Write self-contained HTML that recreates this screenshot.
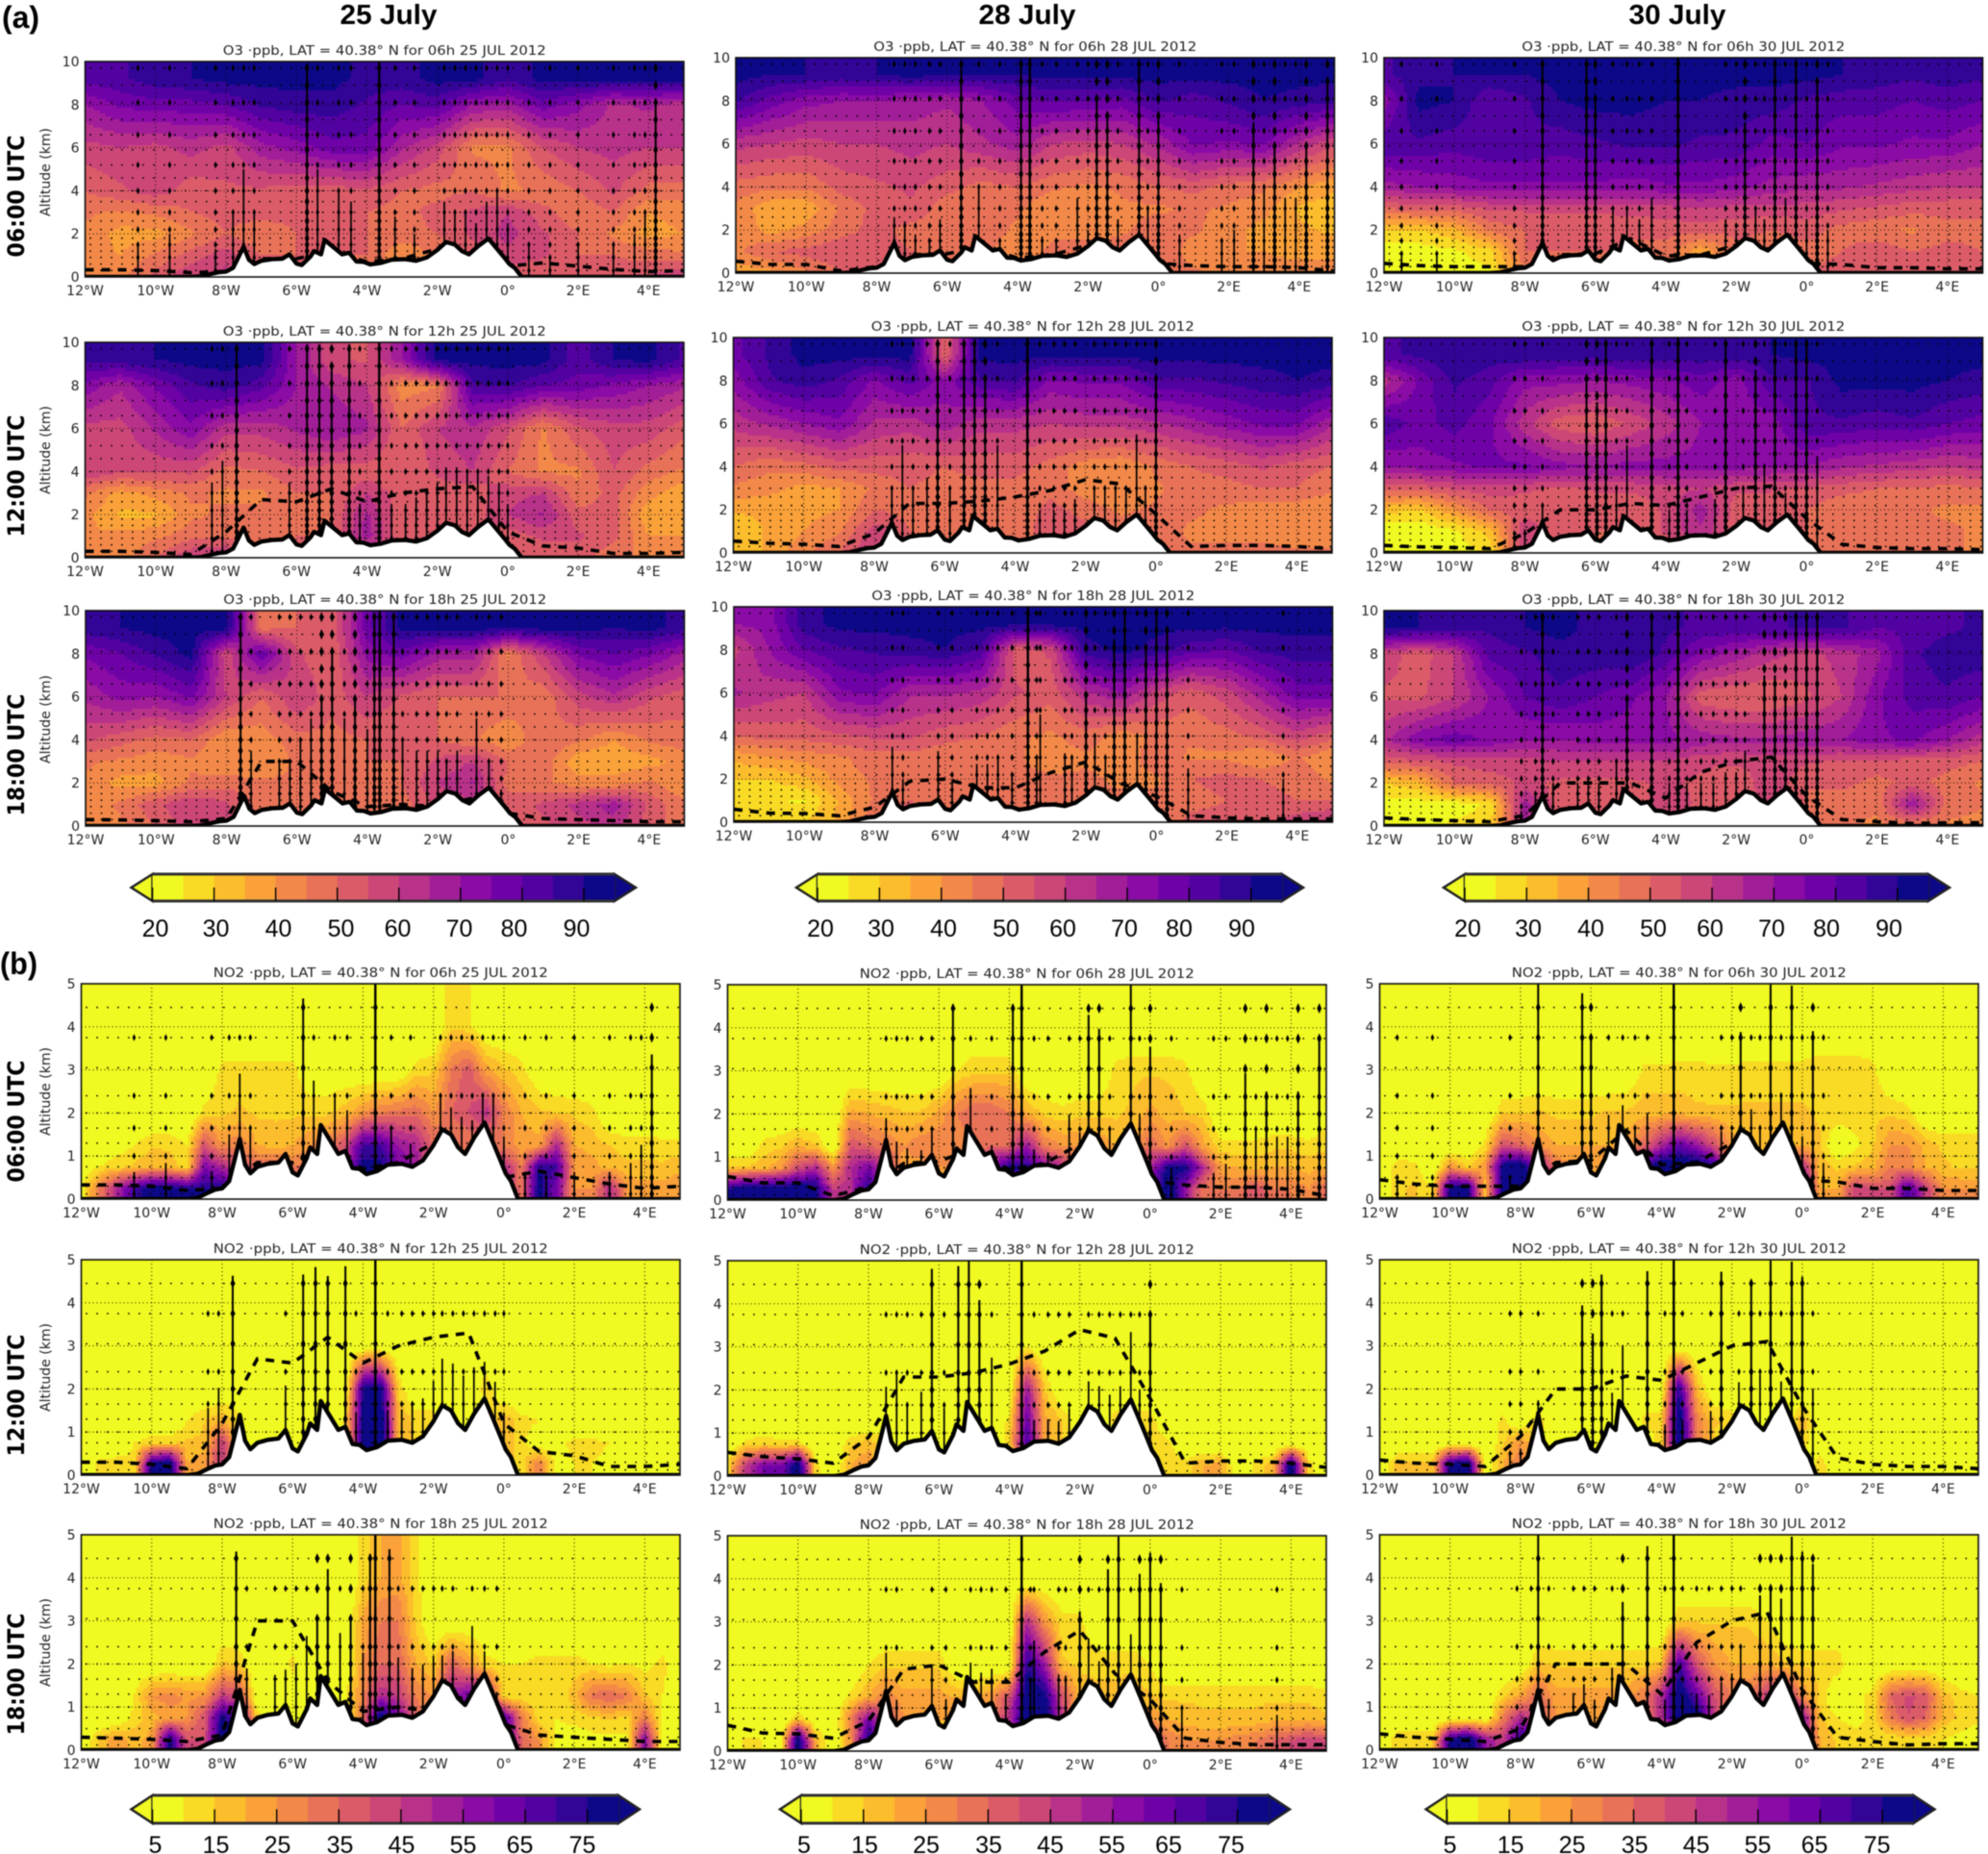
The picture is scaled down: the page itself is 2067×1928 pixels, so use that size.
<!DOCTYPE html>
<html lang="en">
<head>
<meta charset="utf-8">
<title>O3 and NO2 cross sections, July 2012</title>
<style>
html,body{margin:0;padding:0;background:#fff;width:2067px;height:1928px;overflow:hidden}
svg{display:block;filter:blur(.4px)}
.dj{font-family:"DejaVu Sans","Liberation Sans",sans-serif;fill:#222}
.lb{font-family:"Liberation Sans",sans-serif;fill:#000}
</style>
</head>
<body>
<svg id="fig" xmlns="http://www.w3.org/2000/svg" width="2067" height="1928" viewBox="0 0 2067 1928"></svg>
<script>
// ---------- shared axes ----------
const lonTicks=[-12,-10,-8,-6,-4,-2,0,2,4];
const o3AltTicks=[0,2,4,6,8,10];
const no2AltTicks=[0,1,2,3,4,5];
const o3Cols=[-12,-11,-10,-9,-8,-7,-6,-5,-4,-3,-2,-1,0,1,2,3,4,5];
const o3Rows=[0,1,2,3,4,6,8,9.2];
const no2Cols=[-12,-11.5,-11,-10.5,-10,-9.5,-9,-8.5,-8,-7.5,-7,-6.5,-6,-5.5,-5,-4.5,-4,-3.5,-3,-2.5,-2,-1.5,-1,-0.5,0,0.5,1,1.5,2,2.5,3,3.5,4,4.5,5];
const no2Rows=[0.25,0.75,1.25,2,3,4];
const blhLons=[-12,-11,-10,-9,-8,-7,-6,-5,-4,-3,-2,-1,0,1,2,3,4,5];
const terrainLon=[-12,-9,-8.7,-8.4,-8.2,-8,-7.8,-7.65,-7.5,-7.35,-7.2,-7,-6.7,-6.4,-6.2,-6,-5.85,-5.6,-5.5,-5.3,-5.2,-5,-4.7,-4.5,-4.3,-4.1,-3.9,-3.6,-3.3,-2.9,-2.6,-2.3,-2,-1.75,-1.5,-1.3,-1.1,-0.85,-0.55,-0.3,-0.1,0.05,0.2,0.4,5];
const terrainKm=[0,0,.03,.15,.22,.25,.42,.9,1.4,.8,.6,.75,.82,.85,1.05,.62,.55,.95,1.2,1.05,1.72,1.45,1.05,1.12,.72,.7,.58,.65,.8,.82,.75,.9,1.25,1.62,1.5,1.2,1.05,1.42,1.78,1.3,.9,.6,.42,0,0];
const o3DotAlts=[.3,.6,.9,1.2,1.5,1.8,2.2,2.6,3,3.5,4,4.6,5.2,5.9,6.6,7.3,8.1,8.9,9.7];
const no2DotAlts=[.12,.3,.5,.75,1,1.3,1.65,2,2.4,3.05,3.75,4.45];
const o3BarLabels=[20,30,40,50,60,70,80,90];
const no2BarLabels=[5,15,25,35,45,55,65,75];

// ---------- O3 (ppb): rows bottom to top, columns 12W to 5E ----------
const o3_25_06=[[42,44,52,60,62,55,50,50,48,42,46,50,52,50,50,52,56,60],[42,40,46,52,58,50,50,50,50,40,46,52,58,56,50,50,48,46],[44,38,38,44,50,46,50,50,50,48,50,56,62,56,50,44,38,40],[46,44,46,50,52,52,52,52,50,48,52,56,60,52,46,50,40,42],[50,54,58,52,54,54,52,52,54,50,48,50,44,46,50,56,48,48],[58,60,58,62,58,68,72,78,78,66,58,44,44,55,60,62,60,60],[70,76,78,78,80,86,88,88,84,80,82,70,68,78,72,64,66,62],[82,84,88,90,92,92,92,92,88,88,92,92,86,92,92,92,92,92]];
const o3_25_12=[[42,42,50,60,64,52,50,50,50,62,50,50,50,52,52,46,44,46],[40,42,44,48,48,48,50,50,68,50,50,52,52,56,56,52,40,40],[42,34,34,44,46,46,48,50,66,50,50,52,60,66,52,52,36,38],[46,38,42,46,44,44,50,50,60,52,52,52,58,60,46,52,42,36],[60,56,56,56,48,50,54,52,52,50,56,60,50,44,44,55,48,44],[58,58,66,74,62,62,66,70,66,50,60,64,56,44,54,58,58,52],[74,66,76,84,88,82,70,64,60,42,44,84,86,80,78,74,70,66],[86,88,90,92,92,92,70,56,54,70,92,92,92,92,82,90,92,84]];
const o3_25_18=[[42,44,50,58,56,50,48,48,48,48,52,52,52,54,58,62,52,48],[42,46,54,60,56,48,48,48,48,48,56,58,52,56,62,68,54,46],[44,38,38,46,48,46,46,48,48,50,60,66,48,46,42,42,46,40],[46,44,42,44,40,40,46,48,50,50,56,60,50,48,36,36,38,42],[56,52,48,50,40,42,48,48,50,50,50,46,40,50,46,40,46,48],[66,72,70,76,60,50,60,52,60,54,50,50,50,46,58,64,56,52],[76,80,86,92,56,80,56,50,72,78,68,68,44,60,76,80,76,68],[88,90,92,92,92,48,50,52,78,92,92,92,92,92,92,90,92,88]];
const o3_28_06=[[36,38,44,50,54,52,50,50,48,48,50,50,48,46,44,44,46,44],[44,50,52,54,52,50,48,46,42,46,48,48,50,42,40,40,36,38],[44,38,42,48,52,48,48,48,44,44,42,44,48,46,42,38,36,34],[44,36,36,46,52,54,46,48,46,40,42,44,44,46,44,42,34,32],[48,46,46,52,54,56,52,48,50,46,44,46,50,52,48,46,40,36],[62,60,58,60,60,62,60,64,68,60,58,60,66,76,74,76,64,56],[86,78,72,70,70,68,66,70,78,80,80,78,86,82,86,90,88,86],[92,90,90,88,90,92,90,90,90,92,92,92,92,92,92,92,92,92]];
const o3_28_12=[[30,36,44,50,62,52,48,48,48,50,50,50,48,46,46,46,46,46],[30,36,40,44,58,50,48,46,46,54,52,48,48,44,44,44,42,42],[36,36,38,40,50,48,48,48,46,52,48,44,46,46,44,42,42,40],[44,42,38,40,46,50,48,48,48,48,42,40,44,48,48,50,50,46],[50,46,48,52,52,52,50,52,52,48,42,40,46,50,52,56,52,50],[62,66,70,74,64,62,68,62,62,60,62,62,64,68,72,76,76,66],[72,84,88,84,74,82,72,84,86,74,76,76,84,84,86,88,90,88],[78,86,92,92,92,92,50,92,92,92,92,92,92,92,92,92,92,92]];
const o3_28_18=[[28,28,30,36,50,60,48,48,48,50,48,48,46,52,52,52,58,62],[28,26,24,36,46,50,46,46,48,46,46,46,46,48,50,52,50,50],[30,30,34,42,46,46,46,46,46,46,46,44,44,50,52,50,48,44],[36,40,42,44,48,48,46,46,46,42,44,42,48,44,44,40,46,40],[50,52,52,54,56,56,52,50,46,44,48,42,46,46,48,52,58,52],[66,62,60,74,76,66,66,64,56,52,64,70,58,52,58,68,78,78],[58,70,80,84,86,88,90,84,52,56,88,92,88,82,80,86,88,88],[70,72,88,92,92,92,92,92,92,92,92,92,92,92,92,92,92,92]];
const o3_30_06=[[22,22,22,24,44,48,48,48,46,36,48,48,50,52,52,52,52,52],[22,22,24,28,50,50,50,50,48,36,48,46,48,50,54,50,52,50],[30,30,34,46,50,50,50,50,52,52,52,50,52,48,46,44,48,48],[50,52,52,56,56,56,56,58,58,60,58,58,58,56,54,52,52,52],[68,70,72,74,74,74,74,72,74,74,72,68,66,66,64,62,60,60],[84,84,82,84,84,82,84,86,86,84,84,78,80,76,76,74,74,70],[72,92,90,80,84,90,92,92,90,90,88,88,84,82,82,80,82,80],[84,88,90,90,90,92,92,92,92,92,92,92,92,90,88,86,88,86]];
const o3_30_12=[[22,22,22,26,60,50,50,48,50,52,50,48,46,48,48,48,46,44],[20,20,24,32,60,52,50,50,56,64,52,50,50,48,46,46,46,44],[32,30,40,50,52,50,50,50,56,68,52,50,50,46,46,46,44,44],[52,52,56,58,56,54,56,56,58,60,56,56,54,52,50,50,48,50],[70,72,74,76,76,72,70,72,72,72,72,70,70,66,64,62,60,62],[84,78,82,76,62,52,50,56,62,70,72,72,84,84,82,84,80,78],[62,76,86,82,72,72,70,72,74,78,72,84,84,92,92,92,90,88],[84,86,90,88,90,88,88,90,88,88,88,90,92,92,92,92,92,92]];
const o3_30_18=[[24,24,26,28,66,52,50,50,50,52,50,52,50,46,44,44,44,42],[22,22,22,26,68,50,50,52,58,54,52,56,50,46,46,70,48,46],[30,34,50,52,56,54,54,54,56,54,50,60,50,52,48,52,48,44],[52,54,56,58,58,60,60,60,60,56,56,58,56,54,54,52,52,50],[64,74,78,74,70,70,72,72,72,68,66,66,68,70,74,76,70,62],[54,54,60,70,80,84,80,76,70,52,50,50,54,60,74,82,84,80],[58,52,60,82,84,88,88,90,84,74,68,62,58,62,68,84,88,88],[92,90,88,86,90,92,88,86,86,84,84,84,86,86,80,82,84,86]];

// ---------- NO2 (ppb): rows bottom to top, columns every half degree; omitted cells are background ----------
const no2_25_06=[[8,30,50,70,80,80,75,75,75,60,40,40,30,40,60,70,80,80,70,60,30,30,30,30,60,30,80,60,25,25,50,25,22,22,25],[2,10,14,16,20,18,12,60,50,40,35,35,30,30,30,50,78,78,60,55,30,30,30,30,50,30,75,70,25,22,18,16,16,16,18],[2,2,6,10,14,14,10,40,25,30,20,18,20,25,30,40,70,70,55,50,35,30,30,30,30,22,22,50,20,18,15,13,13,12,12],[2,2,2,2,2,2,2,12,14,16,14,14,14,14,14,18,25,30,32,34,25,35,40,48,30,20,16,15,14,12,2,2,2,2,2],[2,2,2,2,2,2,2,2,12,12,12,12,12,4,4,4,2,2,2,12,14,30,38,22,16,12,4,2,2,2,2,2,2,2,2],[2,2,2,2,2,2,2,2,2,2,2,2,2,2,2,2,2,2,2,2,2,14,12]];
const no2_25_12=[[2,12,14,12,78,85,20,25,45,12,2,2,2,2,2,2,50,50,2,10,2,2,2,14,20,12,30,6,10,10,8,4,2,2,2],[2,2,2,10,12,14,16,16,45,12,8,2,2,2,2,10,82,85,20,14,12,2,2,14,20,12,4,8,12,12,10,2,2,2,2],[2,2,2,2,6,2,10,15,20,12,2,2,8,2,2,12,78,85,20,14,14,2,2,10,20,12,10,2,2,2,2,2,2,2,2],[2,2,2,2,2,2,2,2,2,2,2,2,2,2,2,2,76,80,14,2,2,2,2,14,2],[],[]];
const no2_25_18=[[2,16,24,18,22,78,40,40,80,70,2,2,2,2,2,2,30,80,60,30,25,30,55,75,70,35,25,8,6,8,8,8,60,6,6],[2,2,2,12,18,22,25,40,78,65,14,2,2,2,2,10,30,85,60,35,25,25,60,75,70,30,12,10,12,14,16,14,30,8,4],[2,2,2,10,25,28,24,25,45,40,2,2,6,2,2,10,28,50,45,30,25,55,62,55,12,12,10,10,18,32,35,30,16,10,4],[2,2,2,2,2,2,2,2,16,14,2,2,12,2,2,2,24,35,35,20,14,35,25,12,10,10,12,12,12,10,8,10,8,12,4],[2,2,2,2,2,2,2,2,2,2,2,2,2,2,2,2,22,30,30,14],[2,2,2,2,2,2,2,2,2,2,2,2,2,2,2,2,12,20,22,12]];
const no2_28_06=[[75,85,85,85,85,80,45,50,75,60,2,2,2,2,2,2,30,30,30,30,20,20,20,20,60,85,55,30,30,30,40,30,30,25,35],[16,16,18,24,40,50,25,50,60,45,22,22,25,25,30,60,78,75,60,50,30,25,20,20,50,78,78,50,22,20,18,20,20,18,20],[2,2,12,14,20,16,2,40,35,30,25,30,30,25,30,35,35,55,30,25,25,25,20,20,35,25,40,22,12,12,12,14,14,12,14],[2,2,2,2,2,2,2,22,20,18,16,16,22,30,35,35,30,20,14,12,14,14,14,16,22,18,15,14,2,2,2,2,2,2,8],[2,2,2,2,2,2,2,2,2,2,2,2,2,10,14,14,14,2,2,2,2,2,12,14,14,14,12],[]];
const no2_28_12=[[12,45,60,60,85,12,2,20,25,14,2,2,2,2,2,2,2,2,2,2,2,2,2,2,2,14,12,20,22,2,12,18,85,14,2],[2,12,14,12,12,2,2,14,18,14,2,2,2,2,2,2,14,72,22,14,12,2,2,14,14,12],[2,2,2,2,2,2,2,2,2,2,2,2,2,2,2,2,12,65,22,16,2,2,14,14,14],[2,2,2,2,2,2,2,2,2,2,2,2,2,2,2,2,2,55,16],[2,2,2,2,2,2,2,2,2,2,2,2,2,2,2,2,2,10],[]];
const no2_28_18=[[2,12,10,2,85,20,2,25,78,60,2,2,2,2,2,2,30,85,85,45,30,2,2,2,50,30,25,25,25,28,30,35,40,45,40],[2,2,2,2,14,2,2,30,60,40,25,22,22,20,20,25,50,85,85,45,25,18,18,20,25,20,18,16,16,16,16,18,18,18,16],[2,2,2,2,2,2,2,12,20,30,22,22,22,20,20,25,40,85,80,40,18,16,16,18,16,14,14,14,14,14,14,14,14,14,12],[2,2,2,2,2,2,2,2,10,14,14,14,14,2,2,2,2,75,55,16,14,14,14,14,10],[2,2,2,2,2,2,2,2,2,2,2,2,2,2,2,2,2,50,25,12,12],[]];
const no2_30_06=[[2,14,16,10,80,80,16,80,85,75,2,2,2,2,2,2,30,30,30,30,2,2,2,2,70,20,20,45,40,40,70,45,25,25,25],[2,14,12,2,25,14,25,80,85,60,30,25,25,25,40,70,85,85,85,75,25,25,25,25,50,18,14,16,18,30,28,20,16,14,14],[2,2,2,2,2,2,12,40,35,25,20,20,20,20,20,35,50,65,55,40,22,20,18,20,20,16,2,8,14,25,25,18,14,14,14],[2,2,2,2,2,2,2,14,14,16,14,14,14,16,16,18,18,18,16,16,16,16,16,16,16,14,14,14,14,14,12],[2,2,2,2,2,2,2,2,2,2,2,2,2,2,2,11,11,12,12,11,11,12,12,12,12,14,14,14,12],[]];
const no2_30_12=[[2,18,18,18,78,85,4,20,30,14,2,2,2,2,2,2,2,2,2,2,2,2,2,2,2,14],[2,2,2,2,2,2,2,14,25,14,2,2,2,2,2,2,14,85,30,14,2,2,2,14,14],[2,2,2,2,2,2,2,12,2,14,2,2,2,2,2,12,14,85,30,16,14,2,2,2,20],[2,2,2,2,2,2,2,2,2,2,2,2,2,2,2,2,2,75,18],[],[]];
const no2_30_18=[[2,14,14,14,75,85,55,45,75,60,2,2,2,2,2,2,2,2,2,2,2,2,2,2,60,20,14,12,10,10,12,12,10,8,4],[2,2,2,2,2,2,2,30,50,40,25,25,25,25,25,30,50,85,85,45,30,35,45,75,60,16,10,8,12,30,40,35,18,14,12],[2,2,2,2,2,2,2,14,22,35,22,22,22,22,22,30,50,85,65,40,30,30,45,55,25,14,2,8,12,35,42,38,18,12,10],[2,2,2,2,2,2,2,2,2,16,14,14,14,14,14,14,16,70,40,25,20,20,20,16,14,14,14],[2,2,2,2,2,2,2,2,2,2,2,2,2,2,2,2,2,14,14,14,14,14,10],[]];

// ---------- boundary-layer height (km) ----------
const blh_25_06=[.33,.33,.3,.2,.25,.85,.85,1.2,.7,.85,1.3,1.1,.5,.65,.5,.35,.25,.3];
const blh_25_12=[.3,.3,.25,.15,1.2,2.7,2.6,3.2,2.6,3,3.2,3.3,1.2,.55,.45,.2,.2,.25];
const blh_25_18=[.3,.28,.25,.2,.35,3,3,1.6,.9,1,.9,1.3,.6,.35,.3,.25,.2,.2];
const blh_28_06=[.55,.4,.4,.1,.3,.85,.9,1.2,.7,.85,1.3,1.1,.45,.35,.3,.3,.25,.1];
const blh_28_12=[.55,.45,.4,.3,.9,2.3,2.3,2.4,2.6,2.9,3.4,3.2,1.8,.3,.35,.35,.3,.2];
const blh_28_18=[.6,.42,.4,.3,.7,1.9,2,1.6,1.6,2.3,2.8,1.8,1.2,.3,.2,.15,.15,.15];
const blh_30_06=[.45,.35,.3,.3,.3,.85,.9,1.6,.8,.85,1.3,1.1,.45,.4,.25,.25,.2,.2];
const blh_30_12=[.35,.28,.25,.2,.9,2,2,2.3,2.2,2.6,3,3.1,1.6,.4,.25,.2,.2,.15];
const blh_30_18=[.38,.3,.25,.2,.5,2,2,2,1.3,2.5,3,3.2,1.4,.3,.2,.12,.15,.15];

// ---------- strong vertical-wind columns: longitude and top altitude (km on the 0-10 axis) ----------
const gustLon_25_06=[-10.5,-9.6,-8.3,-7.8,-7.5,-7.2,-5.7,-5.4,-4.8,-4.45,-3.65,-3.2,-2.65,-1.8,-1.5,-1.2,-0.9,-0.6,-0.3,0,0.6,1.2,2,3,3.6,3.9,4.2];
const gustTop_25_06=[1.5,2,1.3,3,5,3,10,5,4,3.5,10,2.8,2,3.5,3,3,2.5,3.5,4,2.5,1.5,1,1.5,1.5,2,3,8];
const gustLon_25_12=[-8.4,-8.1,-7.7,-6.2,-5.7,-5.35,-5,-4.5,-4.2,-3.65,-3.3,-2.9,-2.6,-2.3,-2,-1.75,-1.45,-1.15,-0.85,-0.55,-0.25,0];
const gustTop_25_12=[3.5,4.5,10,3.5,10,10,9,10,2.5,10,2.5,2.5,2.8,3,3.5,4.2,4.2,4,4,3.8,3.5,2.5];
const gustLon_25_18=[-7.6,-7.3,-6.5,-6.2,-5.9,-5.6,-5.3,-5,-4.65,-4.35,-4,-3.8,-3.65,-3.25,-3,-2.6,-2.3,-2,-1.75,-1.45,-0.9,-0.55,-0.2];
const gustTop_25_18=[9.5,3.5,3,3,4,5,6,8,5,6,4.5,10,10,10,4,3.5,3.5,3.5,3,3.5,5,3,1.7];
const gustLon_28_06=[-7.5,-7.2,-6.9,-6.5,-6.2,-5.6,-5.1,-4.5,-3.9,-3.65,-3.3,-2.9,-2.3,-2,-1.75,-1.45,-1.15,-0.55,-0.3,0,0.6,1.8,2.15,2.7,3,3.3,3.6,3.9,4.2,4.8];
const gustTop_28_06=[2.6,2.4,1.8,1.6,2.5,9.5,4,1.5,10,10,1.7,1.5,3.5,2,8,7.5,2.5,10,3,7.5,1.8,1.5,2,7,4,6,3.5,3.5,6,9];
const gustLon_28_12=[-7.5,-7.2,-6.9,-6.5,-6.2,-5.85,-5.45,-5.15,-4.85,-4.5,-3.65,-3.3,-2.9,-2.6,-2.3,-1.75,-1.45,-1.15,-0.85,-0.55,-0.3,0];
const gustTop_28_12=[3,5,3,3.5,10,3,10,10,8,5,10,2,2,2,2.5,3,3,3,3,5.5,3,8];
const gustLon_28_18=[-7.5,-7.2,-6.2,-5.8,-5.1,-4.8,-4.5,-4.1,-3.65,-3.4,-3.3,-2.6,-2.4,-2,-1.75,-1.45,-1.2,-0.9,-0.55,-0.3,0,0.3,0.9,3.6];
const gustTop_28_18=[3.5,2,3.3,2,2.7,2.7,3,2.2,10,3,5,3.2,3,6,4,3,8.5,10,4,8,10,9,2.5,2];
const gustLon_30_06=[-11.5,-10.5,-8.3,-7.5,-6.25,-6,-5.5,-5.1,-4.75,-4.4,-3.65,-2.3,-2,-1.75,-1.45,-1.2,-0.9,-0.6,-0.3,0,0.3,0.6];
const gustTop_30_06=[1,.9,.8,10,10,8,3,3,2.5,3.5,10,2.5,2,7,3,2.5,10,3.5,10,2.5,9,2];
const gustLon_30_12=[-8.3,-8,-7.5,-6.25,-5.95,-5.7,-5.4,-5.1,-4.4,-3.9,-3.65,-3.4,-2.6,-2.3,-1.8,-1.45,-1.2,-0.9,-0.6,-0.3,0,0.3];
const gustTop_30_12=[.9,1.1,2.2,8,7,10,3,5,10,2,10,2,2.5,10,3,8.5,4,10,2.8,10,10,4.5];
const gustLon_30_18=[-8.1,-7.7,-7.5,-7.2,-6.5,-6.2,-5.9,-5.4,-5.1,-4.4,-3.9,-3.65,-3.4,-3,-2.65,-2.3,-2,-1.75,-1.2,-0.9,-0.6,-0.3,0,0.3];
const gustTop_30_18=[.7,1.5,10,2,2,2.2,2,3,6,10,2,10,2,2,2,2.5,2.5,3.5,7,7,6,10,10,10];

// ---------- colour scale ----------
const plasmaStops=['#f0f921','#fcce25','#fca636','#f1844b','#e16462','#cc4778','#b12a90','#8f0da4','#6a00a8','#41049d','#0d0887'];
function hexRgb(h){return [parseInt(h.substr(1,2),16),parseInt(h.substr(3,2),16),parseInt(h.substr(5,2),16)];}
function bandColor(i){
  const t=i/14*10,k=Math.min(9,Math.floor(t)),f=t-k,a=hexRgb(plasmaStops[k]),b=hexRgb(plasmaStops[k+1]);
  return 'rgb('+a.map((v,j)=>Math.round(v+(b[j]-v)*f)).join(',')+')';
}
const bandColors=[];
for(let i=0;i<15;i++)bandColors.push(bandColor(i));

// ---------- helpers ----------
const NS='http://www.w3.org/2000/svg';
const fig=document.getElementById('fig');
function mk(tag,parent,attrs){
  const e=document.createElementNS(NS,tag);
  for(const k in attrs)e.setAttribute(k,attrs[k]);
  parent.appendChild(e);
  return e;
}
function locate(arr,v){
  if(v<=arr[0])return [0,0];
  for(let i=0;i<arr.length-1;i++){
    if(v<=arr[i+1])return [i,(v-arr[i])/(arr[i+1]-arr[i])];
  }
  return [arr.length-2,1];
}
function terrainAt(lon){
  const [i,f]=locate(terrainLon,lon);
  return terrainKm[i]+(terrainKm[i+1]-terrainKm[i])*f;
}
function lonLabel(v){return v<0?(-v)+'°W':v>0?v+'°E':'0°';}
function drawText(parent,cls,str,x,y,size,anchor,name,weight,len,rot){
  const t=mk('text',parent,{class:cls,x:x,y:y,'font-size':size,'text-anchor':anchor});
  if(weight)t.setAttribute('font-weight',weight);
  if(len){t.setAttribute('textLength',len);t.setAttribute('lengthAdjust','spacingAndGlyphs');}
  if(rot)t.setAttribute('transform','rotate(-90 '+x+' '+y+')');
  
  
  t.textContent=str;
  return t;
}

// ---------- panel ----------
let clipId=0;
function drawPanel(p){
  const W=622.5,H=224,isO3=p.kind==='o3';
  const maxAlt=isO3?10:5;
  const sx=lon=>p.x+(lon+12)/17*W;
  const sy=alt=>p.y+H-alt/maxAlt*H;
  const cols=isO3?o3Cols:no2Cols,rows=isO3?o3Rows:no2Rows;
  const base=isO3?20:5;
  const g=mk('g',fig,{});
  
  
  const id='clip'+(clipId++);
  const cp=mk('clipPath',g,{id:id});
  mk('rect',cp,{x:p.x,y:p.y,width:W,height:H});
  const plot=mk('g',g,{'clip-path':'url(#'+id+')'});
  const cell=(r,c)=>{const v=p.grid[r]?p.grid[r][c]:undefined;return v===undefined?(isO3?20:2):v;};
  const field=(lon,alt)=>{
    const [i,fx]=locate(cols,lon),[j,fy]=locate(rows,alt);
    const a=cell(j,i)+(cell(j,i+1)-cell(j,i))*fx;
    const b=cell(j+1,i)+(cell(j+1,i+1)-cell(j+1,i))*fx;
    return a+(b-a)*fy;
  };
  // filled contour cells
  const heat=mk('g',plot,{'shape-rendering':'crispEdges'});
  
  
  const step=3;
  for(let py=0;py<H;py+=step){
    const alt=(H-py-step/2)/H*maxAlt;
    let start=0,cur=-1;
    for(let px=0;px<=W+step;px+=step){
      const lon=-12+Math.min(px+step/2,W)/W*17;
      const band=px>W?-2:Math.max(0,Math.min(14,Math.floor((field(lon,alt)-base)/5)));
      if(band!==cur){
        if(cur>=0){
          const r=mk('rect',heat,{x:p.x+start,y:p.y+py,width:px-start+.5,height:step+.5,fill:bandColors[cur]});
          
          
        }
        start=px;cur=band;
      }
    }
  }
  // grid lines
  const ticksY=isO3?o3AltTicks:no2AltTicks;
  lonTicks.forEach(v=>{
    const l=mk('line',plot,{x1:sx(v),x2:sx(v),y1:p.y,y2:p.y+H,stroke:'#000','stroke-width':.9,'stroke-dasharray':'1 3'});
    
    
  });
  ticksY.forEach(v=>{
    const l=mk('line',plot,{x1:p.x,x2:p.x+W,y1:sy(v),y2:sy(v),stroke:'#000','stroke-width':.9,'stroke-dasharray':'1 3'});
    
    
  });
  // wind dots and arrow heads
  const dotAlts=isO3?o3DotAlts:no2DotAlts;
  let dots='';
  for(let lon=-11.85;lon<5;lon+=0.3){
    const t=terrainAt(lon);
    dotAlts.forEach(a=>{if(a>t)dots+='M'+sx(lon).toFixed(1)+' '+sy(a).toFixed(1)+'h.01';});
  }
  const dp=mk('path',plot,{d:dots,stroke:'#000','stroke-width':1.8,'stroke-linecap':'round',fill:'none'});
  
  
  const tops=p.gustTop.map((top,i)=>{
    const lon=p.gustLon[i];
    if(lon===-3.65)return maxAlt;
    if(isO3)return top>=10?Math.min(top,9.9):top;
    const t=terrainAt(lon);
    return Math.min(5,t+(top-t)*0.42);
  });
  let heads='';
  p.gustLon.forEach((lon,i)=>{
    const x=sx(lon),t=terrainAt(lon),strong=p.gustTop[i]>=6;
    const l=mk('line',plot,{x1:x,x2:x,y1:sy(t),y2:sy(tops[i]),stroke:'#000','stroke-width':lon===-3.65?2.4:(strong?2:1.7)});
    
    
    dotAlts.forEach((a,k)=>{
      if(a>t && (strong || k%2===0)){
        const y=sy(a),hh=strong?5.5:3.8,hw=strong?2.4:1.8;
        heads+='M'+x.toFixed(1)+' '+(y-hh).toFixed(1)+'l'+hw+' '+hh+'l'+(-hw)+' '+hh+'l'+(-hw)+' '+(-hh)+'z';
      }
    });
  });
  const hp=mk('path',plot,{d:heads,fill:'#000'});
  
  
  // boundary layer
  const blh=mk('polyline',plot,{points:blhLons.map((lon,i)=>sx(lon).toFixed(1)+','+sy(Math.max(p.blh[i],0)).toFixed(1)).join(' '),fill:'none',stroke:'#000','stroke-width':3.6,'stroke-dasharray':'9 8'});
  
  
  // terrain
  const pts=terrainLon.map((lon,i)=>sx(lon).toFixed(1)+','+sy(terrainKm[i]).toFixed(1)).join(' ');
  const land=mk('polygon',plot,{points:pts+' '+sx(5)+','+(p.y+H+2)+' '+sx(-12)+','+(p.y+H+2),fill:'#fff'});
  
  
  const ridge=mk('polyline',plot,{points:pts,fill:'none',stroke:'#000','stroke-width':4.4,'stroke-linejoin':'round'});
  
  
  // frame
  const frame=mk('rect',g,{x:p.x,y:p.y,width:W,height:H,fill:'none',stroke:'#111','stroke-width':1.6});
  
  
  // labels
  lonTicks.forEach(v=>drawText(g,'dj',lonLabel(v),sx(v),p.y+H+19,14,'middle','x-tick-label'));
  ticksY.forEach(v=>drawText(g,'dj',String(v),p.x-6,sy(v)+5,14,'end','y-tick-label'));
  const pre=isO3?'O3':'NO2';
  drawText(g,'dj',pre+' ·ppb, LAT = 40.38° N for '+p.hour+'h '+p.day+' JUL 2012',p.x+W/2,p.y-7,13.5,'middle','panel-title',null,isO3?336:348);
}

// ---------- colour bar ----------
function drawBar(x0,x1,y0,y1,labels,offs,yLabel,name){
  const g=mk('g',fig,{});
  
  
  const tip=22,bx0=x0+tip,bx1=x1-tip,bw=(bx1-bx0)/15,my=(y0+y1)/2;
  const left=mk('polygon',g,{points:bx0+','+y0+' '+x0+','+my+' '+bx0+','+y1,fill:bandColors[0],stroke:'#222','stroke-width':2.5});
  
  
  const right=mk('polygon',g,{points:bx1+','+y0+' '+x1+','+my+' '+bx1+','+y1,fill:bandColors[14],stroke:'#222','stroke-width':2.5});
  
  
  bandColors.forEach((c,i)=>{
    const r=mk('rect',g,{x:bx0+i*bw,y:y0,width:bw+.6,height:y1-y0,fill:c});
    
    
  });
  const top=mk('line',g,{x1:bx0,x2:bx1,y1:y0,y2:y0,stroke:'#333','stroke-width':3});
  
  
  const bot=mk('line',g,{x1:bx0,x2:bx1,y1:y1,y2:y1,stroke:'#333','stroke-width':3});
  
  
  labels.forEach((v,i)=>{
    const tx=bx0+i*2*bw;
    const t=mk('line',g,{x1:tx,x2:tx,y1:my,y2:y1,stroke:'#000','stroke-width':1.4});
    
    
    drawText(g,'lb',String(v),x0+offs[i],yLabel,25,'middle','colorbar-label');
  });
}

// ---------- assemble ----------
const panels=[
 {kind:'o3',day:'25',hour:'06',x:88.5,y:64,grid:o3_25_06,blh:blh_25_06,gustLon:gustLon_25_06,gustTop:gustTop_25_06},
 {kind:'o3',day:'25',hour:'12',x:88.5,y:356,grid:o3_25_12,blh:blh_25_12,gustLon:gustLon_25_12,gustTop:gustTop_25_12},
 {kind:'o3',day:'25',hour:'18',x:89,y:635,grid:o3_25_18,blh:blh_25_18,gustLon:gustLon_25_18,gustTop:gustTop_25_18},
 {kind:'o3',day:'28',hour:'06',x:765,y:60,grid:o3_28_06,blh:blh_28_06,gustLon:gustLon_28_06,gustTop:gustTop_28_06},
 {kind:'o3',day:'28',hour:'12',x:762.5,y:351,grid:o3_28_12,blh:blh_28_12,gustLon:gustLon_28_12,gustTop:gustTop_28_12},
 {kind:'o3',day:'28',hour:'18',x:763,y:631,grid:o3_28_18,blh:blh_28_18,gustLon:gustLon_28_18,gustTop:gustTop_28_18},
 {kind:'o3',day:'30',hour:'06',x:1439,y:60,grid:o3_30_06,blh:blh_30_06,gustLon:gustLon_30_06,gustTop:gustTop_30_06},
 {kind:'o3',day:'30',hour:'12',x:1439,y:351,grid:o3_30_12,blh:blh_30_12,gustLon:gustLon_30_12,gustTop:gustTop_30_12},
 {kind:'o3',day:'30',hour:'18',x:1439,y:635,grid:o3_30_18,blh:blh_30_18,gustLon:gustLon_30_18,gustTop:gustTop_30_18},
 {kind:'no2',day:'25',hour:'06',x:84.5,y:1023,grid:no2_25_06,blh:blh_25_06,gustLon:gustLon_25_06,gustTop:gustTop_25_06},
 {kind:'no2',day:'25',hour:'12',x:84.5,y:1310,grid:no2_25_12,blh:blh_25_12,gustLon:gustLon_25_12,gustTop:gustTop_25_12},
 {kind:'no2',day:'25',hour:'18',x:84.5,y:1596,grid:no2_25_18,blh:blh_25_18,gustLon:gustLon_25_18,gustTop:gustTop_25_18},
 {kind:'no2',day:'28',hour:'06',x:756.5,y:1024,grid:no2_28_06,blh:blh_28_06,gustLon:gustLon_28_06,gustTop:gustTop_28_06},
 {kind:'no2',day:'28',hour:'12',x:756.5,y:1311,grid:no2_28_12,blh:blh_28_12,gustLon:gustLon_28_12,gustTop:gustTop_28_12},
 {kind:'no2',day:'28',hour:'18',x:756.5,y:1597,grid:no2_28_18,blh:blh_28_18,gustLon:gustLon_28_18,gustTop:gustTop_28_18},
 {kind:'no2',day:'30',hour:'06',x:1434.5,y:1023,grid:no2_30_06,blh:blh_30_06,gustLon:gustLon_30_06,gustTop:gustTop_30_06},
 {kind:'no2',day:'30',hour:'12',x:1434.5,y:1310,grid:no2_30_12,blh:blh_30_12,gustLon:gustLon_30_12,gustTop:gustTop_30_12},
 {kind:'no2',day:'30',hour:'18',x:1434.5,y:1596,grid:no2_30_18,blh:blh_30_18,gustLon:gustLon_30_18,gustTop:gustTop_30_18}
];
panels.forEach(drawPanel);

const barOffsA=[25,88,153,218,277,341,398,463];
const barOffsB=[25,88,152,217,281,345,404,469];
drawBar(136.5,661,909,937,o3BarLabels,barOffsA,974,'o3-colorbar-25-july');
drawBar(828,1355,909,937,o3BarLabels,barOffsA,974,'o3-colorbar-28-july');
drawBar(1501,2027,909,937,o3BarLabels,barOffsA,974,'o3-colorbar-30-july');
drawBar(136.5,665,1867,1896,no2BarLabels,barOffsB,1927,'no2-colorbar-25-july');
drawBar(811,1341,1867,1896,no2BarLabels,barOffsB,1927,'no2-colorbar-28-july');
drawBar(1482.6,2011.5,1867,1896,no2BarLabels,barOffsB,1927,'no2-colorbar-30-july');

drawText(fig,'lb','25 July',404,25,29,'middle','column-title-25-july','bold',101);
drawText(fig,'lb','28 July',1068,25,29,'middle','column-title-28-july','bold',101);
drawText(fig,'lb','30 July',1744,25,29,'middle','column-title-30-july','bold',101);
drawText(fig,'lb','(a)',2,29,32,'start','section-label-a','bold',39);
drawText(fig,'lb','(b)',0,1013,32,'start','section-label-b','bold',39);

const rowLabelY=[204,495,785,1166,1451,1741];
const rowLabelText=['06:00 UTC','12:00 UTC','18:00 UTC','06:00 UTC','12:00 UTC','18:00 UTC'];
rowLabelY.forEach((y,i)=>{
  const t=drawText(fig,'dj',rowLabelText[i],25,y,24,'middle','row-label','bold',127,true);
  t.style.fill='#000';
});
const altLabelY=[179,468,748,1135,1422,1708];
altLabelY.forEach(y=>drawText(fig,'dj','Altitude (km)',52,y,14.5,'middle','y-axis-title',null,92,true));
</script>
</body>
</html>
